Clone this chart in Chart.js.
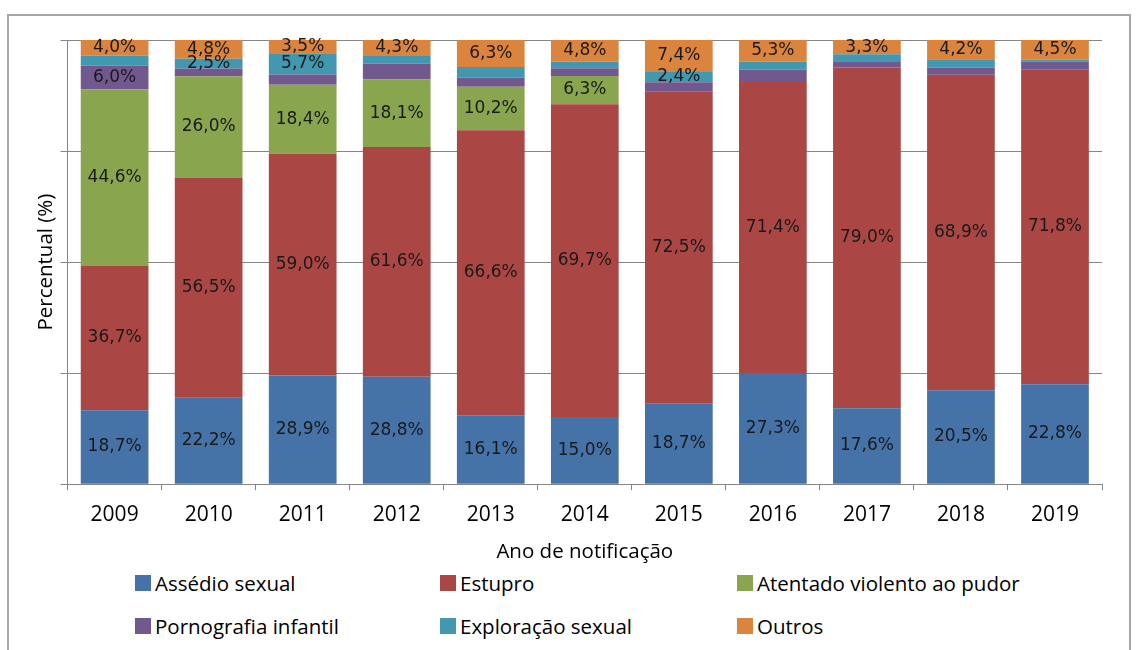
<!DOCTYPE html>
<html>
<head>
<meta charset="utf-8">
<script src="https://cdn.jsdelivr.net/npm/chart.js@4.4.0/dist/chart.umd.min.js"></script>
<style>
  html, body { margin: 0; padding: 0; background: #fff; }
  body { width: 1137px; height: 650px; position: relative; overflow: hidden; font-family: "Open Sans", sans-serif; }
  .frame { position: absolute; left: 7px; top: 14px; width: 1124px; height: 660px; border: 2px solid #a6a6a6; box-sizing: border-box; }
  .chart-box { position: absolute; left: 0; top: 0; width: 1137px; height: 564px; }
  .legend { position: absolute; left: 0; top: 565px; width: 1137px; height: 85px; }
  .legend-item { position: absolute; display: flex; align-items: center; font-size: 20.5px; color: #000; white-space: nowrap; }
  .legend-item span.box { width: 16px; height: 16px; margin-right: 4px; display: inline-block; }
</style>
</head>
<body>
<div class="frame"></div>
<div class="chart-box"><canvas id="violenceChart"></canvas></div>
<div class="legend" id="legend"></div>
<script>
const years = ['2009', '2010', '2011', '2012', '2013', '2014', '2015', '2016', '2017', '2018', '2019'];

// valores (%) por tipo de violência; a soma passa de 100 e o gráfico normaliza (100% empilhado)
const assedio = [18.7, 22.2, 28.9, 28.8, 16.1, 15.0, 18.7, 27.3, 17.6, 20.5, 22.8];
const estupro = [36.7, 56.5, 59.0, 61.6, 66.6, 69.7, 72.5, 71.4, 79.0, 68.9, 71.8];
const atentado = [44.6, 26.0, 18.4, 18.1, 10.2, 6.3, 0, 0, 0, 0, 0];
const pornografia = [6.0, 2.0, 2.7, 4.2, 2.1, 1.7, 2.1, 3.0, 1.5, 1.6, 1.9];
const exploracao = [2.5, 2.5, 5.7, 2.1, 2.5, 1.5, 2.4, 2.0, 1.6, 1.8, 0.4];
const outros = [4.0, 4.8, 3.5, 4.3, 6.3, 4.8, 7.4, 5.3, 3.3, 4.2, 4.5];

// which bars carry a visible label in the original
const atentadoLabelled = [0, 1, 2, 3, 4, 5];
const pornografiaLabelled = [0];
const exploracaoLabelled = [1, 2, 6];

const yTicks = [0, 25, 50, 75, 100];

const allIdx = years.map((_, i) => i);
const series = [
    { label: 'Assédio sexual', values: assedio, color: '#4572a7', shown: allIdx },
    { label: 'Estupro', values: estupro, color: '#aa4643', shown: allIdx },
    { label: 'Atentado violento ao pudor', values: atentado, color: '#89a54e', shown: atentadoLabelled },
    { label: 'Pornografia infantil', values: pornografia, color: '#71588f', shown: pornografiaLabelled },
    { label: 'Exploração sexual', values: exploracao, color: '#4198af', shown: exploracaoLabelled },
    { label: 'Outros', values: outros, color: '#db843d', shown: allIdx }
];

const totals = years.map((_, i) => series.reduce((s, d) => s + d.values[i], 0));

const fmt = v => v.toFixed(1).replace('.', ',') + '%';

const barLabels = {
    id: 'barLabels',
    afterDatasetsDraw(chart) {
        const ctx = chart.ctx;
        ctx.save();
        ctx.font = '17px "DejaVu Sans", sans-serif';
        ctx.fillStyle = '#1a1a1a';
        ctx.textAlign = 'center';
        ctx.textBaseline = 'middle';
        chart.data.datasets.forEach((ds, di) => {
            const meta = chart.getDatasetMeta(di);
            meta.data.forEach((bar, i) => {
                if (!ds.shown.includes(i)) return;
                const mid = (bar.y + bar.base) / 2;
                ctx.fillText(fmt(ds.raw[i]), bar.x, mid);
            });
        });
        ctx.restore();
    }
};

const ctx = document.getElementById('violenceChart');
new Chart(ctx, {
    type: 'bar',
    data: {
        labels: years,
        datasets: series.map(s => ({
            label: s.label,
            raw: s.values,
            shown: s.shown,
            data: s.values.map((v, i) => v / totals[i] * 100),
            backgroundColor: s.color,
            borderWidth: 0,
            barPercentage: 0.72,
            categoryPercentage: 1
        }))
    },
    options: {
        responsive: true,
        maintainAspectRatio: false,
        animation: false,
        layout: { padding: { top: 40, right: 35, left: 34, bottom: 0 } },
        plugins: {
            legend: { display: false },
            tooltip: { enabled: false }
        },
        scales: {
            x: {
                stacked: true,
                border: { color: '#868686', width: 1 },
                grid: { drawOnChartArea: false, drawTicks: true, tickLength: 6, color: '#868686', offset: true },
                ticks: { color: '#000', font: { family: 'Open Sans', size: 21 }, padding: 12 },
                title: { display: true, text: 'Ano de notificação', color: '#000', font: { family: 'Open Sans', size: 20.5 }, padding: { top: 0, bottom: 0 } }
            },
            y: {
                stacked: true,
                min: 0,
                max: 100,
                afterBuildTicks: axis => { axis.ticks = yTicks.map(v => ({ value: v })); },
                border: { color: '#868686', width: 1 },
                grid: { color: '#868686', tickLength: 7 },
                ticks: { display: false },
                title: { display: true, text: 'Percentual (%)', color: '#000', font: { family: 'Open Sans', size: 20.5 }, padding: { top: 0, bottom: 2 } }
            }
        }
    },
    plugins: [barLabels]
});

// legend laid out as in the original: 3 columns, 2 rows
const legendCols = [135, 440, 737];
const legendRows = [4, 47];
const legendEl = document.getElementById('legend');
series.forEach((s, i) => {
    const item = document.createElement('div');
    item.className = 'legend-item';
    item.style.left = legendCols[i % 3] + 'px';
    item.style.top = legendRows[Math.floor(i / 3)] + 'px';
    const box = document.createElement('span');
    box.className = 'box';
    box.style.background = s.color;
    item.appendChild(box);
    item.appendChild(document.createTextNode(s.label));
    legendEl.appendChild(item);
});
</script>
</body>
</html>
